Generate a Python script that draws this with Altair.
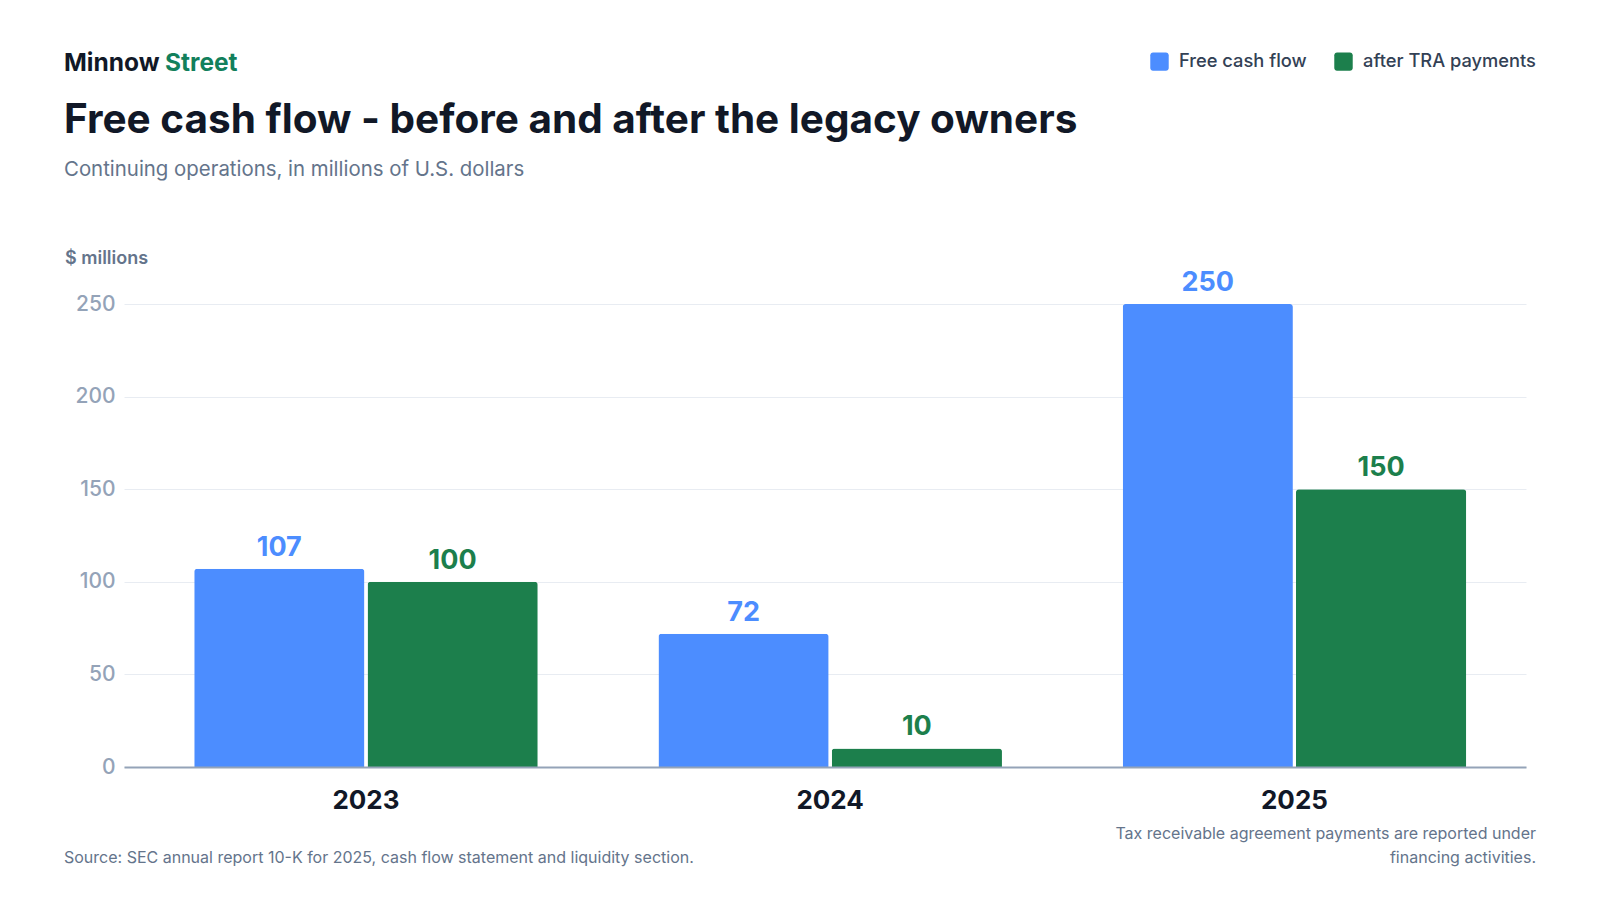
import altair as alt
import pandas as pd

years = ["2023", "2024", "2025"]
series_names = ["Free cash flow", "after TRA payments"]
free_cash_flow = [107, 72, 250]
after_tra = [100, 10, 150]
y_ticks = [0, 50, 100, 150, 200, 250]
colors = ["#4C8DFF", "#1C7F4C"]

rows = []
for i, yr in enumerate(years):
    rows.append({"year": yr, "series": series_names[0], "value": free_cash_flow[i]})
    rows.append({"year": yr, "series": series_names[1], "value": after_tra[i]})
df = pd.DataFrame(rows)

FONT = "Inter"

x_enc = alt.X("year:N", sort=years,
              scale=alt.Scale(paddingInner=0.26, paddingOuter=0.14, align=0.54),
              axis=alt.Axis(title=None, labelAngle=0, labelFont=FONT, labelFontSize=26,
                            labelFontWeight=700, labelColor="#111827", labelPadding=20,
                            domainColor="#94A3B8", domainWidth=2, ticks=False, grid=False,
                            zindex=1))
xoff_enc = alt.XOffset("series:N", sort=series_names,
                       scale=alt.Scale(paddingInner=0.018, paddingOuter=0))
y_enc = alt.Y("value:Q", scale=alt.Scale(domain=[0, 250], nice=False),
              axis=alt.Axis(title=None, values=y_ticks, labelFont=FONT, labelFontSize=21,
                            labelFontWeight=500, labelColor="#94A3B8", labelPadding=9,
                            domain=False, ticks=False, gridColor="#E8ECF2", gridWidth=1))
color_enc = alt.Color("series:N", sort=series_names,
                      scale=alt.Scale(domain=series_names, range=colors),
                      legend=alt.Legend(title=None, orient="none", direction="horizontal",
                                        legendX=1026, legendY=-252))

bars = alt.Chart(df).mark_bar(cornerRadiusTopLeft=3, cornerRadiusTopRight=3).encode(
    x=x_enc, xOffset=xoff_enc, y=y_enc, color=color_enc)

labels = alt.Chart(df).mark_text(font=FONT, fontSize=27, fontWeight=700,
                                 baseline="alphabetic", dy=-13).encode(
    x=x_enc, xOffset=xoff_enc, y=y_enc, color=color_enc, text=alt.Text("value:Q"))


def note(text, x, y, size, color, weight=400, align="left"):
    return alt.Chart(pd.DataFrame({"t": [text]})).mark_text(
        font=FONT, fontSize=size, fontWeight=weight, color=color, align=align,
        baseline="alphabetic").encode(x=alt.value(x), y=alt.value(y), text="t:N")


brand1 = note("Minnow", -60, -233, 24.5, "#111827", 700)
brand2 = note("Street", 41, -233, 24.5, "#12805C", 700)
title = note("Free cash flow - before and after the legacy owners", -60, -171, 40.5, "#111827", 700)
subtitle = note("Continuing operations, in millions of U.S. dollars", -60, -128, 20.4, "#64748B", 400)
unit = note("$ millions", -59, -40, 18, "#64748B", 600)
source = note("Source: SEC annual report 10-K for 2025, cash flow statement and liquidity section.",
              -60, 559, 16, "#64748B", 400)
fn1 = note("Tax receivable agreement payments are reported under", 1412, 535, 16, "#64748B", 400, "right")
fn2 = note("financing activities.", 1412, 559, 16, "#64748B", 400, "right")

rounded_square = ("M -0.7 -1 L 0.7 -1 A 0.3 0.3 0 0 1 1 -0.7 L 1 0.7 A 0.3 0.3 0 0 1 0.7 1 "
                  "L -0.7 1 A 0.3 0.3 0 0 1 -1 0.7 L -1 -0.7 A 0.3 0.3 0 0 1 -0.7 -1 Z")

chart = alt.layer(bars, labels, brand1, brand2, title, subtitle, unit, source, fn1, fn2).properties(
    width=1402, height=463,
    autosize=alt.AutoSizeParams(type="none"),
    padding={"left": 116, "top": 296, "right": 60, "bottom": 120},
    background="white",
).configure_view(stroke=None).configure_legend(
    symbolType=rounded_square, symbolSize=340, symbolStrokeWidth=0, symbolOpacity=1,
    labelFont=FONT, labelFontSize=18.3, labelFontWeight=500, labelColor="#334155",
    labelOffset=10, columnPadding=27, padding=0, labelLimit=0,
)

chart.save("out.html", embed_options={"renderer": "svg", "actions": False})
